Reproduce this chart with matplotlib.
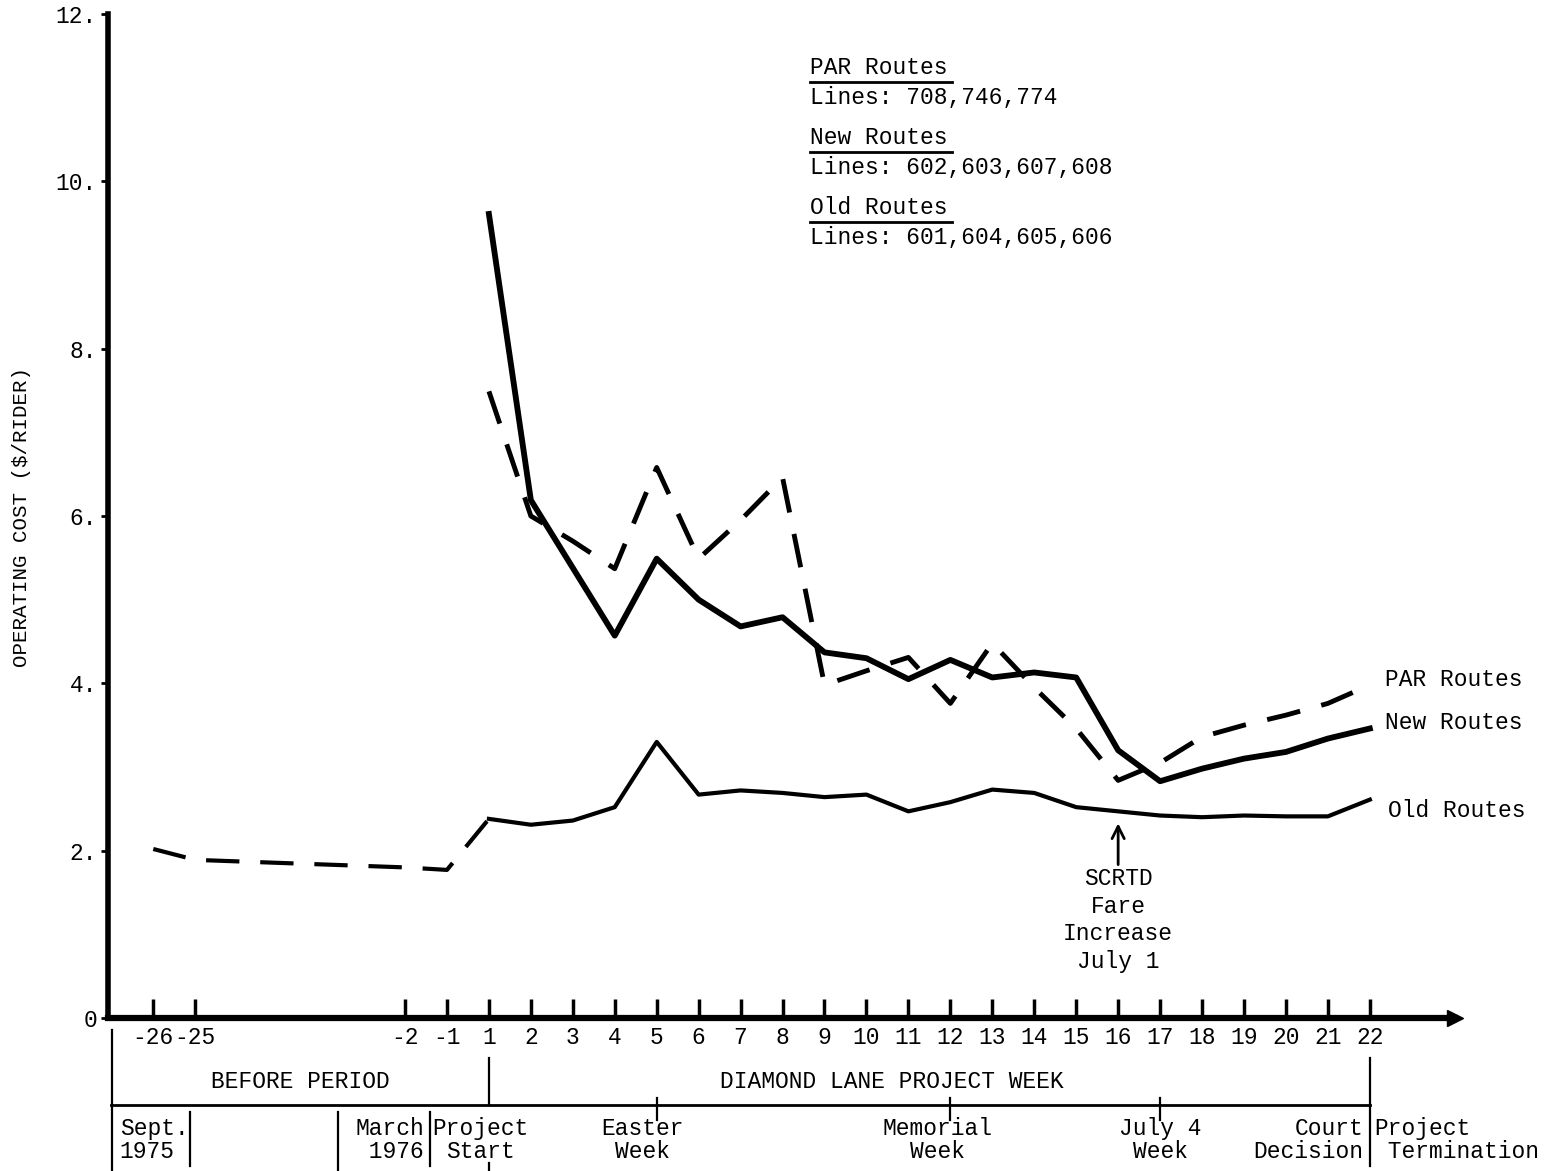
import matplotlib
matplotlib.use("Agg")
import matplotlib.pyplot as plt
from matplotlib.lines import Line2D
from matplotlib.ticker import FixedLocator, FixedFormatter

plt.rcParams['font.family'] = ['Liberation Mono', 'DejaVu Sans Mono']

# ---- data ----
before_weeks = [-26, -25, -2, -1, 1]
before_cost = [2.02, 1.89, 1.80, 1.77, 2.38]

project_weeks = list(range(1, 23))
old_routes = [2.38, 2.31, 2.36, 2.52, 3.30, 2.67, 2.72, 2.69, 2.64, 2.67, 2.47,
              2.58, 2.73, 2.69, 2.52, 2.47, 2.42, 2.40, 2.42, 2.41, 2.41, 2.61]
new_routes = [9.61, 6.19, 5.38, 4.57, 5.49, 5.00, 4.68, 4.79, 4.37, 4.30, 4.05,
              4.28, 4.07, 4.13, 4.07, 3.20, 2.83, 2.98, 3.10, 3.18, 3.34, 3.46]
par_routes = [7.49, 6.00, 5.70, 5.37, 6.58, 5.49, 5.95, 6.46, 3.98, 4.15, 4.31,
              3.76, 4.48, 3.95, 3.46, 2.84, 3.05, 3.36, 3.50, 3.62, 3.76, 3.98]

tick_weeks = [-26, -25, -2, -1] + project_weeks
y_ticks = [0, 2, 4, 6, 8, 10, 12]
y_tick_labels = ["0", "2.", "4.", "6.", "8.", "10.", "12."]

legend_lines = [("PAR Routes", "Lines: 708,746,774"),
                ("New Routes", "Lines: 602,603,607,608"),
                ("Old Routes", "Lines: 601,604,605,606")]


def week_pos(w):
    # the axis is broken: weeks -25..-2 are squeezed together
    if w > 0:
        return w
    if w >= -2:
        return w + 1
    return w + 19


W, H = 1557, 1171
fig = plt.figure(figsize=(W / 100, H / 100), dpi=100)
ax = fig.add_axes([108 / W, 1 - 1018 / H, (1455 - 108) / W, (1018 - 14) / H])
ax.set_xlim(-8.08, 24.03)
ax.set_ylim(0, 12)

FS = 16.5

# ---- lines ----
ax.plot([week_pos(w) for w in before_weeks], before_cost, color='black', lw=3,
        linestyle=(0, (8, 5)))
ax.plot(project_weeks, old_routes, color='black', lw=3, solid_joinstyle='round')
ax.plot(project_weeks, new_routes, color='black', lw=4.2, solid_joinstyle='round')
ax.plot(project_weeks, par_routes, color='black', lw=3.5, linestyle=(0, (7, 4.5)))

# ---- axes styling ----
for s in ['top', 'right']:
    ax.spines[s].set_visible(False)
ax.spines['left'].set_linewidth(4)
ax.spines['bottom'].set_linewidth(4.5)
ax.plot([ax.get_xlim()[1]], [0], marker='>', color='black', markersize=12,
        clip_on=False)

ax.xaxis.set_major_locator(FixedLocator([week_pos(w) for w in tick_weeks]))
ax.xaxis.set_major_formatter(FixedFormatter([str(w) for w in tick_weeks]))
ax.tick_params(axis='x', direction='in', length=14, width=2.5, labelsize=FS, pad=6)
ax.yaxis.set_major_locator(FixedLocator(y_ticks))
ax.yaxis.set_major_formatter(FixedFormatter(y_tick_labels))
ax.tick_params(axis='y', direction='out', length=5, width=2, labelsize=FS, pad=3)

fig.text(22 / W, 1 - 517 / H, "OPERATING COST ($/RIDER)", rotation=90,
         ha='center', va='center', fontsize=15)

# ---- series labels at the right end ----
ax.text(22.36, 4.04, "PAR Routes", fontsize=FS, va='center')
ax.text(22.36, 3.53, "New Routes", fontsize=FS, va='center')
ax.text(22.43, 2.48, "Old Routes", fontsize=FS, va='center')

# ---- fare increase note ----
ax.annotate('', xy=(16, 2.36), xytext=(16, 1.80),
            arrowprops=dict(arrowstyle='->', lw=2, color='black', mutation_scale=22))
ax.text(16, 1.80, "SCRTD\nFare\nIncrease\nJuly 1", fontsize=FS, ha='center',
        va='top', linespacing=1.25)

# ---- route legend block ----
for i, (name, lines) in enumerate(legend_lines):
    y0 = 68 + i * 70
    fig.text(810 / W, 1 - y0 / H, name, fontsize=FS, va='center')
    fig.text(810 / W, 1 - (y0 + 29) / H, lines, fontsize=FS, va='center')
    fig.add_artist(Line2D([810 / W, 952 / W], [1 - (y0 + 14) / H] * 2,
                          color='black', lw=2))

# ---- period table under the axis ----
tr = ax.get_xaxis_transform()


def fy(py):
    return (1018 - py) / 1004


def vline(x, y1, y2, lw=1.6):
    ax.add_line(Line2D([x, x], [fy(y1), fy(y2)], color='black', lw=lw,
                       transform=tr, clip_on=False))


ax.add_line(Line2D([-8.0, 22], [fy(1105)] * 2, color='black', lw=2,
                   transform=tr, clip_on=False))
vline(-7.98, 1030, 1171)
vline(1, 1058, 1105)
vline(1, 1163, 1171)
vline(22, 1058, 1166)
vline(-6.13, 1112, 1166)
vline(-2.6, 1112, 1171)
vline(-0.41, 1112, 1166)
for x in [5, 12, 17]:
    vline(x, 1098, 1120)

ax.text(-3.5, fy(1082), "BEFORE PERIOD", transform=tr, fontsize=FS,
        ha='center', va='center')
ax.text(10.6, fy(1082), "DIAMOND LANE PROJECT WEEK", transform=tr, fontsize=FS,
        ha='center', va='center')

row2 = [(-7.8, "Sept.\n1975", 'left'),
        (-0.55, "March\n 1976", 'right'),
        (0.8, "Project\nStart", 'center'),
        (4.65, "Easter\nWeek", 'center'),
        (11.7, "Memorial\nWeek", 'center'),
        (17.0, "July 4\nWeek", 'center'),
        (21.85, "Court\nDecision", 'right')]
for x, txt, ha in row2:
    ax.text(x, fy(1140), txt, transform=tr, fontsize=FS, ha=ha,
            va='center', multialignment=ha, linespacing=1.05)
ax.text(22.1, fy(1140), "Project\n Termination", transform=tr, fontsize=FS,
        ha='left', va='center', linespacing=1.05)

fig.savefig("out.png", dpi=100)
